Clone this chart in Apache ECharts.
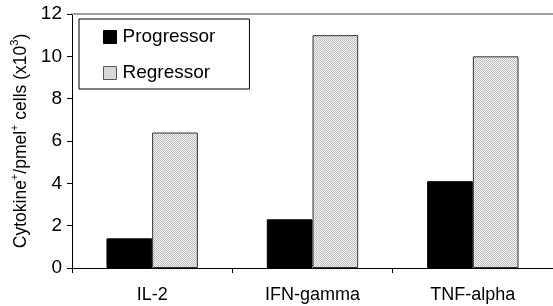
<!DOCTYPE html>
<html>
<head>
<meta charset="utf-8">
<script src="https://cdn.jsdelivr.net/npm/echarts@6/dist/echarts.min.js"></script>
<style>
  html, body { margin: 0; padding: 0; background: #fff; }
  #chart { width: 553px; height: 306px; }
</style>
</head>
<body>
<div id="chart"></div>
<script>
var categories = ['IL-2', 'IFN-gamma', 'TNF-alpha'];
var progressor = [1.4, 2.3, 4.1];
var regressor = [6.4, 11.0, 10.0];
var yTicks = [0, 2, 4, 6, 8, 10, 12];

// fine checker fill for the regressor bars
function makePattern() {
    var c = document.createElement('canvas');
    c.width = 2;
    c.height = 2;
    var ctx = c.getContext('2d');
    ctx.fillStyle = '#ececec';
    ctx.fillRect(0, 0, 2, 2);
    ctx.fillStyle = '#c4c4c4';
    ctx.fillRect(0, 0, 1, 1);
    ctx.fillRect(1, 1, 1, 1);
    return c;
}
var pattern = { image: makePattern(), repeat: 'repeat' };

var font = 'Liberation Sans, Arial, sans-serif';
var chart = echarts.init(document.getElementById('chart'));
chart.setOption({
    animation: false,
    textStyle: { fontFamily: font, color: '#000' },
    grid: { left: 72, right: 0, top: 14, bottom: 38 },
    legend: {
        orient: 'vertical',
        left: 79,
        top: 19,
        padding: [7, 34, 5, 24],
        itemGap: 14,
        itemWidth: 13,
        itemHeight: 13,
        borderColor: '#000',
        borderWidth: 1,
        textStyle: { fontSize: 19, color: '#000', lineHeight: 22, padding: [0, 0, 0, 1] },
        data: [
            { name: 'Progressor', icon: 'rect', itemStyle: { borderColor: '#000', borderWidth: 1 } },
            { name: 'Regressor', icon: 'rect', itemStyle: { borderColor: '#555', borderWidth: 1 } }
        ]
    },
    xAxis: [{
        type: 'category',
        data: categories,
        axisLine: { lineStyle: { color: '#000', width: 1 } },
        axisTick: { show: true, length: 5, lineStyle: { color: '#000' } },
        axisLabel: { fontSize: 18, color: '#000', margin: 18 }
    }, {
        type: 'category',
        position: 'top',
        data: categories,
        axisLine: { lineStyle: { color: '#a0a0a0', width: 2 } },
        axisTick: { show: false },
        axisLabel: { show: false }
    }],
    yAxis: {
        type: 'value',
        min: yTicks[0],
        max: yTicks[yTicks.length - 1],
        interval: 2,
        splitLine: { show: false },
        axisLine: { show: true, lineStyle: { color: '#000', width: 1 } },
        axisTick: { show: true, length: 5, lineStyle: { color: '#000' } },
        axisLabel: { fontSize: 19, color: '#000', margin: 10 },
        name: '{a|Cytokine}{s|+}{a|/pmel}{s|+}{a| cells (x10}{s|3}{a|)}',
        nameLocation: 'middle',
        nameGap: 36,
        nameTextStyle: {
            rich: {
                a: { fontSize: 17.5, fontFamily: font, color: '#000', lineHeight: 22 },
                s: { fontSize: 11, fontFamily: font, color: '#000', lineHeight: 22, verticalAlign: 'top' }
            }
        }
    },
    series: [{
        name: 'Progressor',
        type: 'bar',
        data: progressor,
        barGap: '0%',
        barCategoryGap: '43%',
        itemStyle: { color: '#000', borderColor: '#000', borderWidth: 1 }
    }, {
        name: 'Regressor',
        type: 'bar',
        data: regressor,
        itemStyle: { color: pattern, borderColor: '#333', borderWidth: 1 }
    }]
});
</script>
</body>
</html>
